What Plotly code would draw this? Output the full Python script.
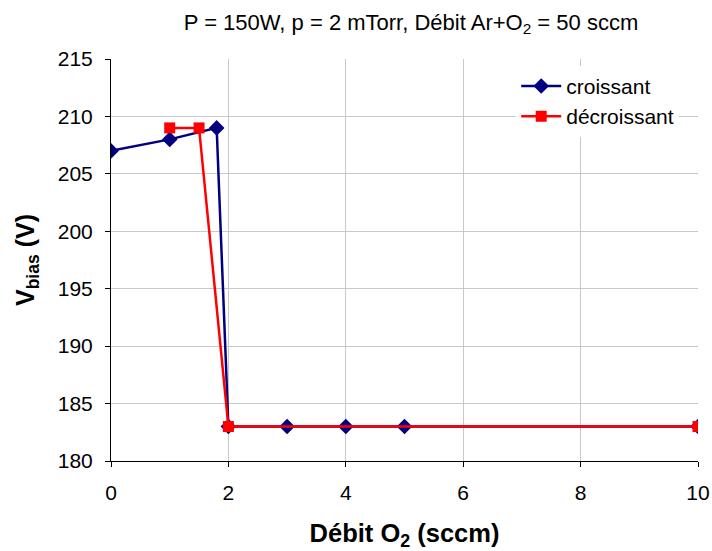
import plotly.graph_objects as go

# Flux d'O2 (sccm) et tension de polarisation (V)
debit_croissant = [0, 1, 1.8, 2, 3, 4, 5, 10]
vbias_croissant = [207, 208, 209, 183, 183, 183, 183, 183]

debit_decroissant = [1, 1.5, 2, 10]
vbias_decroissant = [209, 209, 183, 183]

x_ticks = [0, 2, 4, 6, 8, 10]
y_ticks = [180, 185, 190, 195, 200, 205, 210, 215]

font_family = "Liberation Sans, Arial, sans-serif"

fig = go.Figure()
fig.add_trace(go.Scatter(
    x=debit_croissant, y=vbias_croissant, name="croissant",
    mode="lines+markers",
    line=dict(color="#000080", width=2.5),
    marker=dict(symbol="diamond", size=12, color="#000080"),
))
fig.add_trace(go.Scatter(
    x=debit_decroissant, y=vbias_decroissant, name="décroissant",
    mode="lines+markers",
    line=dict(color="#FF0000", width=2.5),
    marker=dict(symbol="square", size=11, color="#FF0000"),
))

fig.update_layout(
    width=712, height=551,
    margin=dict(l=111, r=14, t=59, b=90),
    paper_bgcolor="white", plot_bgcolor="white",
    font=dict(family=font_family, size=21, color="black"),
    title=dict(
        text="P = 150W, p = 2 mTorr, Débit Ar+O<sub>2</sub> = 50 sccm",
        x=411 / 712, xanchor="center", y=1 - 22 / 551, yanchor="middle",
        font=dict(size=22),
    ),
    showlegend=True,
    legend=dict(
        x=0.968, xanchor="right", y=0.983, yanchor="top",
        bgcolor="white", borderwidth=0,
        font=dict(size=21), itemwidth=40, tracegroupgap=0,
    ),
    xaxis=dict(
        range=[0, 10], tickvals=x_ticks, automargin=False,
        showgrid=True, gridcolor="#C8C8C8", gridwidth=1,
        showline=True, linecolor="black", linewidth=1,
        ticks="outside", ticklen=5, tickcolor="black",
        ticklabelstandoff=8,
        zeroline=False,
        title=dict(text="<b>Débit O<sub>2</sub> (sccm)</b>", font=dict(size=25.5), standoff=22),
    ),
    yaxis=dict(
        range=[180, 215], tickvals=y_ticks, automargin=False,
        showgrid=True, gridcolor="#C8C8C8", gridwidth=1,
        showline=True, linecolor="black", linewidth=1,
        ticks="outside", ticklen=5, tickcolor="black",
        ticklabelstandoff=8,
        zeroline=False,
        title=dict(text="<b>V<sub>bias</sub> (V)</b>", font=dict(size=25), standoff=16),
    ),
)

fig.write_html("out.html")
